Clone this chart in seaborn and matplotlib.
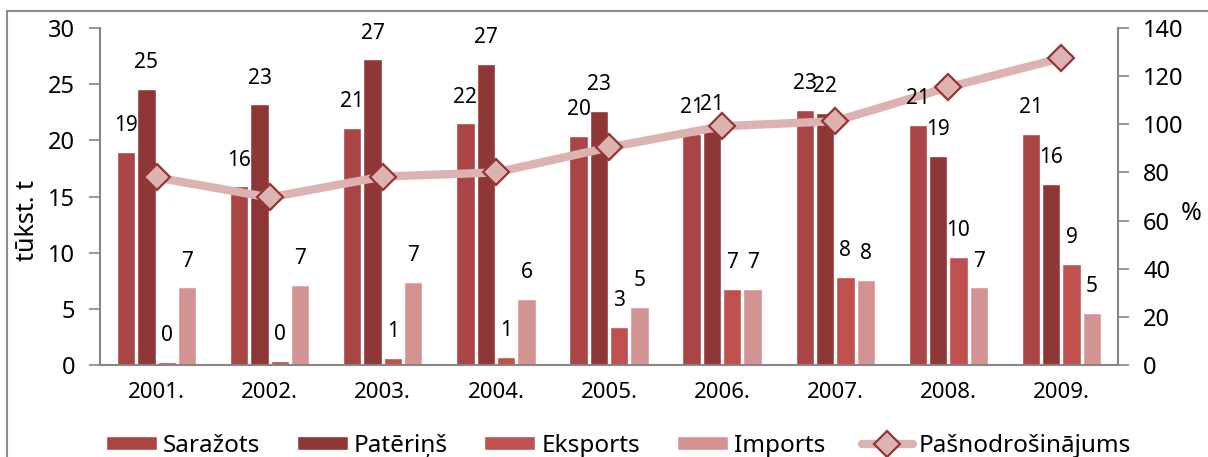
import numpy as np
import pandas as pd
import matplotlib.pyplot as plt
import matplotlib.patches as mpatches
from matplotlib.lines import Line2D
import seaborn as sns

sns.set_style("white")
plt.rcParams['font.family'] = ['Noto Sans', 'DejaVu Sans']

# ========== data ==========
years = ["2001.", "2002.", "2003.", "2004.", "2005.", "2006.", "2007.", "2008.", "2009."]
sarazots = [19.0, 15.9, 21.1, 21.5, 20.4, 20.6, 22.7, 21.4, 20.6]
pateri = [24.6, 23.2, 27.2, 26.8, 22.6, 20.8, 22.4, 18.6, 16.1]
eksports = [0.3, 0.4, 0.6, 0.7, 3.4, 6.8, 7.8, 9.6, 9.0]
imports = [6.9, 7.1, 7.4, 5.9, 5.2, 6.8, 7.6, 6.9, 4.6]
pasnodr = [77.9, 69.6, 78.3, 80.0, 90.4, 99.2, 101.3, 115.4, 127.5]

series_names = ["Saražots", "Patēriņš", "Eksports", "Imports"]
line_name = "Pašnodrošinājums"
colors = ["#A94544", "#8E3736", "#C0504D", "#D49393"]
line_color = "#DDB3B2"
marker_edge = "#943634"
axis_gray = "#868686"

df = pd.DataFrame({
    "year": years * 4,
    "series": np.repeat(series_names, len(years)),
    "value": sarazots + pateri + eksports + imports,
})

fig = plt.figure(figsize=(12.08, 4.57), dpi=100)
ax = fig.add_axes([0.0828, 0.2013, 0.8427, 0.7374])

sns.barplot(data=df, x="year", y="value", hue="series", hue_order=series_names,
            palette=colors, width=0.72, gap=0.1, edgecolor="white", linewidth=1,
            saturation=1, legend=False, ax=ax)

ax.set_ylim(0, 30)
ax.set_yticks(range(0, 31, 5))
ax.set_xlim(-0.5, len(years) - 0.5)
ax.set_xlabel("")
ax.set_ylabel("tūkst. t", fontsize=18, color="black")
ax.yaxis.set_label_coords(-0.059, 0.43)

# category ticks at boundaries, labels in the middle
ax.set_xticks(np.arange(len(years)))
ax.set_xticklabels(years)
ax.set_xticks(np.arange(-0.5, len(years)), minor=True)
ax.tick_params(axis="x", which="major", length=0, pad=12, labelsize=16, labelcolor="black")
ax.tick_params(axis="x", which="minor", length=8, width=1.2, color=axis_gray, direction="inout")
ax.tick_params(axis="y", length=8, width=1.2, color=axis_gray, labelsize=17, pad=10,
               left=True, labelcolor="black")

for s in ["top", "right"]:
    ax.spines[s].set_visible(False)
for s in ["left", "bottom"]:
    ax.spines[s].set_color(axis_gray)
    ax.spines[s].set_linewidth(1.5)

# ========== line on right axis ==========
ax2 = ax.twinx()
sns.lineplot(x=np.arange(len(years)), y=pasnodr, color=line_color, linewidth=6,
             marker="D", markersize=13, markerfacecolor=line_color,
             markeredgecolor=marker_edge, markeredgewidth=1.6, ax=ax2)
ax2.set_ylim(0, 140)
ax2.set_yticks(range(0, 141, 20))
ax2.set_ylabel("%", fontsize=18, rotation=0, va="center", color="black")
ax2.yaxis.set_label_coords(1.072, 0.45)
ax2.tick_params(axis="y", length=8, width=1.2, color=axis_gray, labelsize=17, pad=10,
                right=True, labelcolor="black")
for s in ["top", "left", "bottom"]:
    ax2.spines[s].set_visible(False)
ax2.spines["right"].set_color(axis_gray)
ax2.spines["right"].set_linewidth(1.5)
ax2.set_xlim(-0.5, len(years) - 0.5)

# data labels (on ax2 so they sit above the line)
for cont, vals in zip(ax.containers, [sarazots, pateri, eksports, imports]):
    for bar, v in zip(cont, vals):
        ax2.annotate(f"{v:.0f}", (bar.get_x() + bar.get_width() / 2, bar.get_height()),
                     xycoords=ax.transData, xytext=(0, 19), textcoords="offset points",
                     ha="center", va="center", fontsize=15, color="black", zorder=5)

# ========== legend ==========
handles = [mpatches.Patch(facecolor=c, edgecolor="white", label=n) for c, n in zip(colors, series_names)]
handles.append(Line2D([0], [0], color=line_color, linewidth=6, marker="D", markersize=13,
                      markerfacecolor=line_color, markeredgecolor=marker_edge,
                      markeredgewidth=1.6, label=line_name))
fig.legend(handles=handles, loc="center", bbox_to_anchor=(0.512, 0.025), ncol=5,
           frameon=False, fontsize=17.5, handlelength=2.1, handleheight=0.55,
           columnspacing=1.5, handletextpad=0.25, labelcolor="black")

# outer frame
fig.patches.append(mpatches.Rectangle((0.0058, -0.1), 1.1, 1.076, transform=fig.transFigure,
                                      fill=False, edgecolor="#8C8C8C", linewidth=1.5))

fig.savefig("out.png", dpi=100)
